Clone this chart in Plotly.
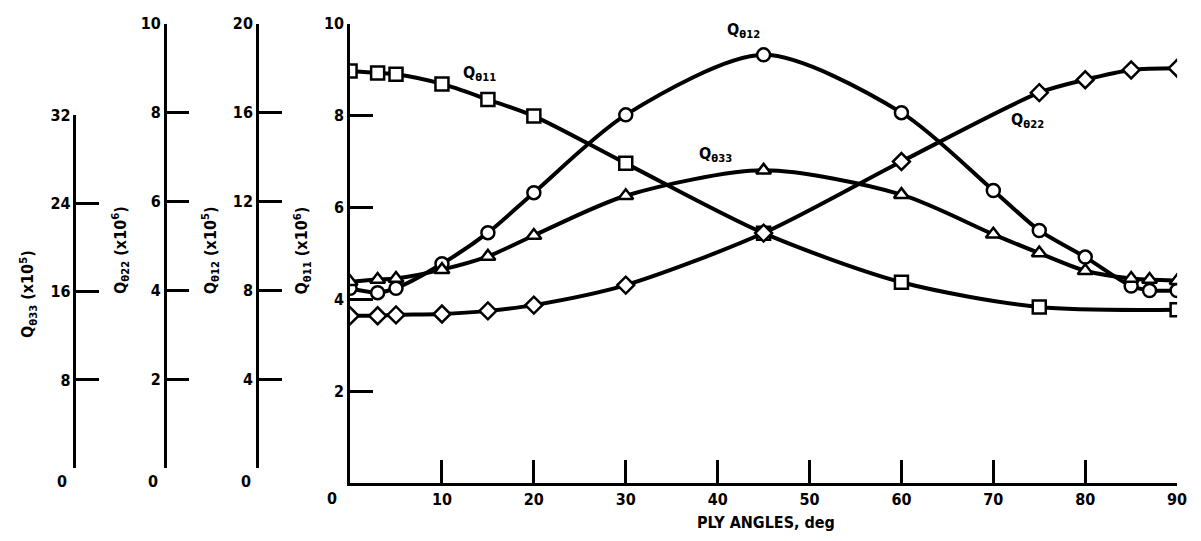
import plotly.graph_objects as go

# ---- data ----
ang_11 = [0, 3, 5, 10, 15, 20, 30, 45, 60, 75, 90]
q11 = [8.97, 8.93, 8.9, 8.69, 8.35, 7.99, 6.96, 5.44, 4.37, 3.83, 3.77]          # x10^6

ang_12 = [0, 3, 5, 10, 15, 20, 30, 45, 60, 70, 75, 80, 85, 87, 90]
q12 = [8.1, 7.9, 8.1, 9.2, 10.6, 12.4, 15.9, 18.6, 16.0, 12.5, 10.7, 9.5, 8.2, 8.0, 8.0]  # x10^5

ang_22 = [0, 3, 5, 10, 15, 20, 30, 45, 60, 75, 80, 85, 90]
q22 = [3.43, 3.43, 3.45, 3.47, 3.54, 3.67, 4.12, 5.29, 6.90, 8.45, 8.74, 8.96, 9.0]  # x10^6

ang_33 = [0, 3, 5, 10, 15, 20, 30, 45, 60, 70, 75, 80, 85, 87, 90]
q33 = [16.9, 17.1, 17.2, 18.0, 19.2, 21.1, 24.7, 27.0, 24.8, 21.2, 19.5, 17.9, 17.2, 17.1, 17.0]  # x10^5

x_ticks = [10, 20, 30, 40, 50, 60, 70, 80, 90]
y11_ticks = [0, 2, 4, 6, 8, 10]
y12_ticks = [0, 4, 8, 12, 16, 20]
y22_ticks = [0, 2, 4, 6, 8, 10]
y33_ticks = [0, 8, 16, 24, 32]

W, H = 1201, 541
FONT = "Liberation Sans Narrow, DejaVu Sans Condensed, Arial Narrow, Liberation Sans, sans-serif"

def px(x):
    return x / W

def py(y):
    return (H - y) / H

fig = go.Figure()

line = dict(color="black", width=4, shape="spline", smoothing=0.8)

def add(xs, ys, sym, yax):
    fig.add_trace(go.Scatter(
        x=xs, y=ys, mode="lines+markers", yaxis=yax, line=line,
        marker=dict(symbol=sym, size=13, color="white",
                    line=dict(color="black", width=2.5)),
        showlegend=False, hoverinfo="x+y"))

add(ang_11, q11, "square", "y")
add(ang_12, q12, "circle", "y2")
add(ang_22, q22, "diamond", "y3")
add(ang_33, q33, "triangle-up", "y4")

tickfont = dict(family=FONT, size=16, color="black", weight="bold")

common_y = dict(showgrid=False, zeroline=False, showline=True, linecolor="black",
                linewidth=2.5, ticks="inside", ticklen=23, tickwidth=2.5,
                tickcolor="black", tickfont=tickfont, fixedrange=True)

def ticktext(vals):
    return ["" if v == 0 else str(v) for v in vals]

fig.update_layout(
    width=W, height=H,
    margin=dict(l=0, r=0, t=0, b=0),
    paper_bgcolor="white", plot_bgcolor="rgba(0,0,0,0)",
    xaxis=dict(domain=[px(353), px(1187)], range=[0, 90], showgrid=False,
               zeroline=False, showline=True, linecolor="black", linewidth=2.5,
               ticks="inside", ticklen=23, tickwidth=2.5, tickcolor="black",
               tickvals=x_ticks, ticktext=[str(v) for v in x_ticks],
               tickfont=tickfont, anchor="y", fixedrange=True),
    yaxis=dict(domain=[py(482), py(15)], range=[0, 10], tickvals=y11_ticks,
               ticktext=ticktext(y11_ticks), anchor="x", **common_y),
    yaxis2=dict(domain=[py(467), py(15)], range=[0, 20], tickvals=y12_ticks,
                ticktext=ticktext(y12_ticks), anchor="free", position=px(259),
                **common_y),
    yaxis3=dict(domain=[py(467), py(15)], range=[0, 10], tickvals=y22_ticks,
                ticktext=ticktext(y22_ticks), anchor="free", position=px(166),
                **common_y),
    yaxis4=dict(domain=[py(467), py(108)], range=[0, 32], tickvals=y33_ticks,
                ticktext=ticktext(y33_ticks), anchor="free", position=px(75),
                **common_y),
)

annfont = dict(family=FONT, size=16, color="black", weight="bold")

def ann(text, x, y, angle=0, size=16):
    f = dict(annfont)
    f["size"] = size
    fig.add_annotation(text=text, x=px(x), y=py(y), xref="paper", yref="paper",
                       showarrow=False, textangle=angle, font=f,
                       xanchor="center", yanchor="middle")

# zero labels below each axis
for xx, yy in [(63, 481), (154, 481), (248, 481), (335, 498)]:
    ann("0", xx, yy)

# axis titles
ann("Q<sub>θ33</sub> (x10<sup>5</sup>)", 28, 290, angle=-90, size=16)
ann("Q<sub>θ22</sub> (x10<sup>6</sup>)", 122, 245, angle=-90, size=16)
ann("Q<sub>θ12</sub> (x10<sup>5</sup>)", 213, 245, angle=-90, size=16)
ann("Q<sub>θ11</sub> (x10<sup>6</sup>)", 305, 245, angle=-90, size=16)

# curve labels
ann("Q<sub>θ11</sub>", 484, 66)
ann("Q<sub>θ12</sub>", 750, 22)
ann("Q<sub>θ33</sub>", 722, 148)
ann("Q<sub>θ22</sub>", 1036, 113)

ann("PLY ANGLES, deg", 772, 522)

fig.write_html("out.html")
